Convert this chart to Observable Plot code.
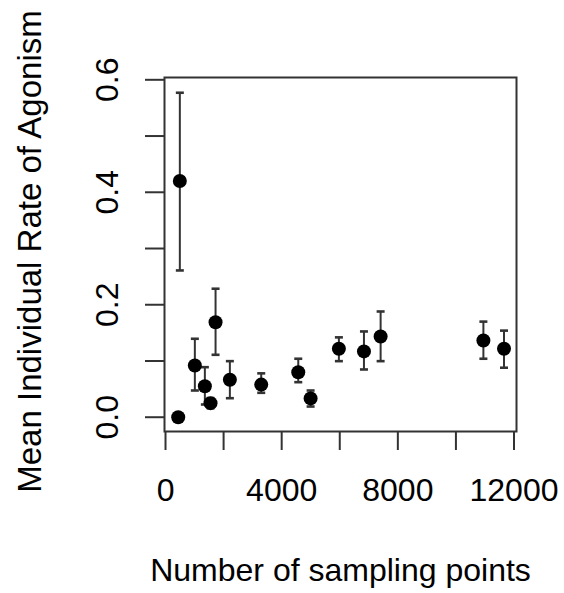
<!DOCTYPE html>
<html>
<head>
<meta charset="utf-8">
<script src="https://cdn.jsdelivr.net/npm/d3@7"></script>
<script src="https://cdn.jsdelivr.net/npm/@observablehq/plot@0.6"></script>
<style>
  html, body { margin: 0; padding: 0; background: #fff; }
  #chart svg { display: block; }
</style>
</head>
<body>
<div id="chart"></div>
<script>
// Data
const samplingPoints = [437, 493, 1010, 1355, 1550, 1723, 2216, 3296, 4571, 4996, 5970, 6833, 7407, 10946, 11656];
const meanRate      = [0.000, 0.420, 0.092, 0.055, 0.025, 0.169, 0.0665, 0.058, 0.080, 0.0335, 0.1217, 0.117, 0.1436, 0.1365, 0.1217];
const rateLower     = [0.000, 0.261, 0.0475, 0.0226, 0.016, 0.111, 0.0338, 0.0434, 0.0623, 0.019, 0.0997, 0.0849, 0.0997, 0.104, 0.088];
const rateUpper     = [0.000, 0.577, 0.1395, 0.089, 0.034, 0.2285, 0.0997, 0.078, 0.104, 0.0475, 0.142, 0.1525, 0.188, 0.170, 0.154];

const xTicks = [0, 2000, 4000, 6000, 8000, 10000, 12000];
const xTickLabels = ["0", "", "4000", "", "8000", "", "12000"];
const yTicks = [0, 0.1, 0.2, 0.3, 0.4, 0.5, 0.6];
const yTickLabels = ["0.0", "", "0.2", "", "0.4", "", "0.6"];

const xTitle = "Number of sampling points";
const yTitle = "Mean Individual Rate of Agonism";

const rows = samplingPoints.map((x, i) => ({x, y: meanRate[i], lo: rateLower[i], hi: rateUpper[i]}));

const font = "'Liberation Sans', Arial, Helvetica, sans-serif";
const fs = 32;
const lineColor = "#333";

// horizontal bar symbol for error-bar caps
const capSymbol = {
  draw(context, size) {
    const r = Math.sqrt(size / Math.PI);
    context.moveTo(-r, 0);
    context.lineTo(r, 0);
  }
};

const chart = Plot.plot({
  width: 564,
  height: 593,
  marginLeft: 164,
  marginRight: 48,
  marginTop: 77,
  marginBottom: 162,
  style: {fontFamily: font, fontSize: fs + "px", background: "#fff", color: "#000"},
  x: {domain: [-35, 12086]},
  y: {domain: [-0.0254, 0.6041]},
  marks: [
    Plot.ruleX(rows, {x: "x", y1: "lo", y2: "hi", stroke: lineColor, strokeWidth: 2}),
    Plot.dot(rows, {x: "x", y: "lo", symbol: capSymbol, r: 4, fill: "none", stroke: lineColor, strokeWidth: 2.6}),
    Plot.dot(rows, {x: "x", y: "hi", symbol: capSymbol, r: 4, fill: "none", stroke: lineColor, strokeWidth: 2.6}),
    Plot.dot(rows, {x: "x", y: "y", r: 7, fill: "#000", stroke: "none"}),
    Plot.frame({stroke: lineColor, strokeWidth: 2}),
    Plot.axisX({
      ticks: xTicks,
      tickSize: 19,
      tickPadding: 28,
      tickFormat: (d, i) => xTickLabels[xTicks.indexOf(d)],
      stroke: lineColor,
      strokeWidth: 2,
      fontSize: fs,
      fill: "#000",
      label: null
    }),
    Plot.axisY({
      ticks: yTicks,
      tickSize: 19,
      tickPadding: 28,
      tickRotate: -90,
      tickFormat: (d) => yTickLabels[yTicks.findIndex(t => Math.abs(t - d) < 1e-9)],
      stroke: lineColor,
      strokeWidth: 2,
      fontSize: fs,
      fill: "#000",
      label: null
    }),
    Plot.text([xTitle], {text: d => d, frameAnchor: "bottom", dy: 127, lineAnchor: "top", textAnchor: "middle", fontSize: fs, fill: "#000"}),
    Plot.text([yTitle], {text: d => d, frameAnchor: "left", dx: -124, dy: -3, rotate: -90, lineAnchor: "bottom", textAnchor: "middle", fontSize: 33, fill: "#000"})
  ]
});

document.getElementById("chart").appendChild(chart);
</script>
</body>
</html>
